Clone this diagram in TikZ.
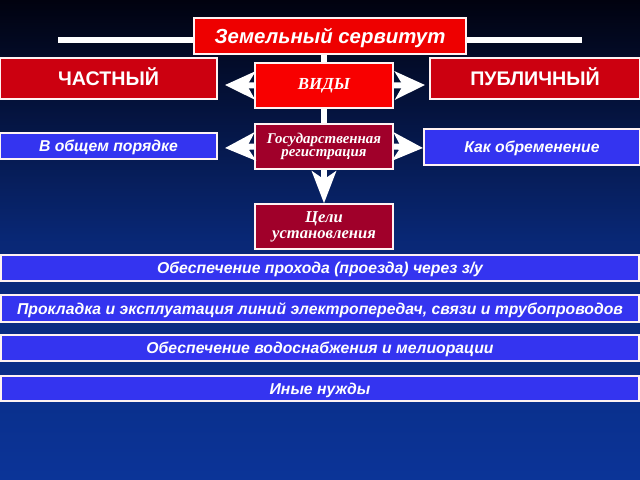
\documentclass[tikz,border=0pt]{standalone}
\usepackage{fontspec}
\setmainfont{Liberation Serif}
\setsansfont{Liberation Sans}
\usetikzlibrary{arrows.meta,positioning}

\definecolor{bgtop}{HTML}{01020F}
\definecolor{bgbot}{HTML}{0B3498}
\definecolor{titlered}{HTML}{EE0000}
\definecolor{sidered}{HTML}{CC0010}
\definecolor{kindred}{HTML}{F80000}
\definecolor{darkred}{HTML}{A0002A}
\definecolor{itemblue}{HTML}{3434F0}

\begin{document}
\begin{tikzpicture}[x=0.025cm,y=-0.025cm,
    box/.style={draw=white!80!pink,line width=0.9pt,text=white,inner sep=0pt},
    headbox/.style={box,fill=titlered,minimum width=6.8cm,minimum height=0.9cm,
                    text height=10.4pt,text depth=0pt,
                    font=\sffamily\bfseries\itshape\fontsize{14.5}{17}\selectfont},
    sidebox/.style={box,fill=sidered,minimum height=1.025cm,
                    text height=10pt,text depth=0pt,
                    font=\sffamily\bfseries\fontsize{14}{16}\selectfont},
    midbox/.style={box,align=center,minimum width=3.45cm,minimum height=1.125cm,
                   font=\rmfamily\bfseries\itshape\fontsize{10.6}{9.5}\selectfont},
    bluebox/.style={box,fill=itemblue,text height=8pt,text depth=0pt,
                    font=\sffamily\bfseries\itshape\fontsize{11.2}{13}\selectfont},
    band/.style={bluebox,minimum width=15.95cm},
    wline/.style={white,line width=0.15cm},
    bigarrow/.style={white,line width=0.15cm,-{Stealth[length=0.75cm,width=0.7cm,inset=0.2cm]}},
    downarrow/.style={white,line width=0.15cm,-{Stealth[length=0.8cm,width=0.6cm,inset=0.2cm]}}]

  % background
  \shade[top color=bgtop,bottom color=bgbot,middle color=bgbot!75!bgtop] (0,0) rectangle (640,480);
  \useasboundingbox (0,0) rectangle (640,480);

  % rule behind the title
  \coordinate (lineL) at (58,40);
  \coordinate (lineR) at (582,40);
  \draw[wline] (lineL) -- (lineR);

  \node[headbox]  (title)   at (330,36)    {Земельный сервитут};
  \node[sidebox,minimum width=5.425cm] (private) at (108.5,78.5) {ЧАСТНЫЙ};
  \node[sidebox,minimum width=5.25cm]  (public)  at (535,78.5)   {ПУБЛИЧНЫЙ};
  \node[midbox,fill=kindred,font=\rmfamily\bfseries\itshape\fontsize{12}{12}\selectfont]
                             (kinds) at (324,85.5)  {ВИДЫ};
  \node[midbox,fill=darkred] (reg)   at (324,146.5) {Государственная\\регистрация};
  \node[midbox,fill=darkred,font=\rmfamily\bfseries\itshape\fontsize{11.8}{11.5}\selectfont]
                             (goals) at (324,226.5) {Цели\\установления};
  \node[bluebox,minimum width=5.425cm,minimum height=0.65cm] (general) at (108.5,146) {В общем порядке};
  \node[bluebox,minimum width=5.4cm,minimum height=0.9cm]    (burden)  at (532,147)   {Как обременение};

  \node[band,minimum height=0.65cm]  (item1) at (320,268)   {Обеспечение прохода (проезда) через з/у};
  \node[band,minimum height=0.675cm] (item2) at (320,308.5) {Прокладка и эксплуатация линий электропередач, связи и трубопроводов};
  \node[band,minimum height=0.65cm]  (item3) at (320,348)   {Обеспечение водоснабжения и мелиорации};
  \node[band,minimum height=0.625cm] (item4) at (320,388.5) {Иные нужды};

  % arrow tips
  \coordinate (kindsL) at (225,85);
  \coordinate (kindsR) at (425,85);
  \coordinate (regL)   at (225,148);
  \coordinate (regR)   at (423,148);

  \draw[wline] (kinds.north) -- (kinds.north |- title.south);
  \draw[wline] (kinds.south) -- (reg.north);
  \draw[downarrow] (reg.south) -- (goals.north);
  \draw[bigarrow] (kinds.west) -- (kindsL);
  \draw[bigarrow] (kinds.east) -- (kindsR);
  \draw[bigarrow] (reg.west) -- (regL);
  \draw[bigarrow] (reg.east) -- (regR);
\end{tikzpicture}
\end{document}
